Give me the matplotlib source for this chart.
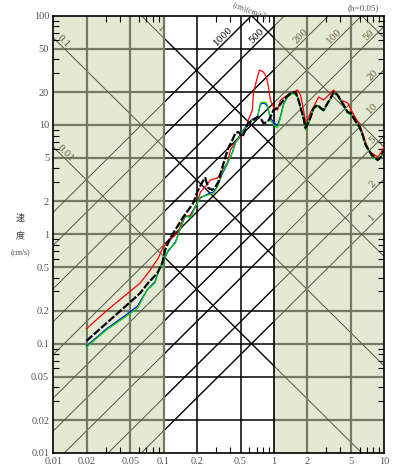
import numpy as np
import matplotlib
matplotlib.use('Agg')
import matplotlib.pyplot as plt

# response spectra (period T [s], velocity V [cm/s])
red_T = [0.02, 0.0308, 0.043, 0.0614, 0.0757, 0.089, 0.0994, 0.115, 0.136, 0.151, 0.175, 0.202,
         0.216, 0.239, 0.266, 0.308, 0.342, 0.379, 0.404, 0.449, 0.498, 0.553, 0.589, 0.640,
         0.653, 0.711, 0.741, 0.805, 0.858, 0.895, 0.933, 0.994, 1.08, 1.151, 1.333, 1.51,
         1.642, 1.748, 1.862, 1.941, 2.066, 2.157, 2.296, 2.55, 2.831, 3.15, 3.488, 3.793,
         4.038, 4.677, 5.2, 5.65, 6.01, 6.40, 6.82, 7.26, 7.73, 8.23, 8.76, 9.33, 10.0]
red_V = [0.137, 0.202, 0.267, 0.358, 0.471, 0.60, 0.765, 0.887, 1.05, 1.41, 1.50, 1.93,
         2.44, 2.71, 3.14, 3.27, 3.87, 4.49, 5.9, 6.98, 7.76, 9.0, 11.1, 13.7,
         19.6, 27.5, 31.8, 30.5, 27.5, 22.2, 16.9, 14.6, 13.7, 16.9, 18.8, 20.0,
         20.9, 18.8, 13.7, 10.6, 11.6, 13.1, 14.6, 18.0, 16.9, 18.8, 20.9, 18.8,
         16.9, 15.9, 12.9, 11.1, 10.0, 8.44, 6.84, 5.9, 5.54, 5.31, 5.09, 5.54, 6.29]

black_T = [0.02, 0.0308, 0.043, 0.0614, 0.0726, 0.0877, 0.0976, 0.1035, 0.115, 0.151, 0.168,
           0.186, 0.202, 0.225, 0.239, 0.255, 0.277, 0.295, 0.314, 0.342, 0.364, 0.387, 0.421,
           0.449, 0.478, 0.519, 0.553, 0.589, 0.653, 0.711, 0.757, 0.805, 0.877, 0.933, 0.994,
           1.08, 1.225, 1.419, 1.575, 1.642, 1.748, 1.862, 1.941, 2.066, 2.157, 2.296, 2.497,
           2.659, 2.831, 3.08, 3.276, 3.488, 3.793, 4.038, 4.3, 4.677, 4.98, 5.30, 5.65, 6.01,
           6.40, 6.82, 7.26, 7.73, 8.23, 8.76, 9.33, 10.0]
black_V = [0.106, 0.156, 0.21, 0.29, 0.36, 0.44, 0.55, 0.72, 0.925, 1.44, 1.67,
           1.93, 2.44, 3.01, 3.27, 2.65, 2.54, 2.71, 3.01, 4.12, 5.09, 6.16, 7.28,
           8.44, 8.63, 7.76, 9.0, 10.4, 11.1, 11.8, 11.6, 10.4, 10.6, 11.8, 13.7,
           14.3, 16.9, 19.6, 20.0, 18.0, 14.6, 11.6, 9.38, 10.6, 11.8, 14.3, 15.2,
           14.3, 13.7, 15.9, 17.6, 20.0, 18.8, 16.9, 15.2, 13.1, 12.9, 11.6, 10.4, 9.58,
           8.09, 6.56, 5.9, 5.31, 5.09, 4.78, 5.09, 5.9]

green_T = [0.02, 0.0308, 0.043, 0.058, 0.071, 0.084, 0.089, 0.0994, 0.110, 0.128, 0.148, 0.157,
           0.175, 0.194, 0.216, 0.255, 0.286, 0.308, 0.342, 0.379, 0.421, 0.449, 0.498, 0.577,
           0.640, 0.711, 0.757, 0.805, 0.858, 0.895, 0.933, 0.994, 1.08, 1.151, 1.225, 1.333,
           1.419, 1.51, 1.642, 1.748, 1.862, 1.941, 2.066, 2.157, 2.296, 2.497, 2.659, 2.831,
           3.08, 3.276, 3.488, 3.793, 4.038, 4.3, 4.677, 4.98, 5.30, 5.65, 6.01, 6.40, 6.82,
           7.26, 7.73, 8.23, 8.76, 9.33, 10.0]
green_V = [0.093, 0.135, 0.17, 0.21, 0.31, 0.36, 0.44, 0.56, 0.718, 0.83, 1.27, 1.50,
           1.41, 1.78, 2.19, 2.29, 2.39, 2.71, 3.71, 4.49, 5.54, 6.84, 8.09, 10.0,
           11.1, 11.6, 15.9, 16.2, 15.9, 13.7, 11.1, 10.0, 9.38, 11.6, 15.2, 18.0,
           18.8, 19.6, 18.0, 14.3, 11.1, 9.0, 10.4, 11.6, 14.0, 15.0, 14.0, 13.4,
           15.6, 17.3, 19.6, 18.4, 16.5, 14.9, 12.8, 12.5, 11.3, 10.2, 9.4, 7.9, 6.4,
           5.8, 5.2, 4.95, 4.7, 5.0, 5.8]

blue_T = [0.02, 0.0308, 0.043, 0.058, 0.071, 0.084, 0.089, 0.0994, 0.110, 0.128, 0.148, 0.157,
          0.175, 0.194, 0.216, 0.255, 0.286, 0.308, 0.342, 0.379, 0.421, 0.449, 0.498, 0.577,
          0.640, 0.711, 0.757, 0.805, 0.858, 0.895, 0.933, 0.994, 1.08, 1.151, 1.225, 1.333,
          1.419, 1.51, 1.642, 1.748, 1.862, 1.941, 2.066, 2.157, 2.296, 2.497, 2.659, 2.831,
          3.08, 3.276, 3.488, 3.793, 4.038, 4.3, 4.677, 4.98, 5.30, 5.65, 6.01, 6.40, 6.82,
          7.26, 7.73, 8.23, 8.76, 9.33, 10.0]
blue_V = [0.095, 0.138, 0.175, 0.22, 0.31, 0.37, 0.45, 0.57, 0.70, 0.85, 1.25, 1.48,
          1.43, 1.80, 2.15, 2.35, 2.45, 2.75, 3.6, 4.4, 5.6, 6.9, 8.2, 10.2,
          11.3, 11.9, 15.5, 15.8, 15.4, 13.5, 11.6, 10.6, 9.8, 12.0, 15.5, 18.3,
          19.0, 19.8, 18.2, 14.4, 11.3, 9.1, 10.5, 11.7, 14.1, 15.1, 14.1, 13.5,
          15.7, 17.4, 19.8, 18.6, 16.7, 15.0, 12.9, 12.6, 11.4, 10.3, 9.5, 8.0, 6.5,
          5.85, 5.25, 5.0, 4.75, 5.05, 5.85]

x_ticks = [0.01, 0.02, 0.05, 0.1, 0.2, 0.5, 1, 2, 5, 10]
x_labels = ['0.01', '0.02', '0.05', '0.1', '0.2', '0.5', '1', '2', '5', '10']
y_ticks = [0.01, 0.02, 0.05, 0.1, 0.2, 0.5, 1, 2, 5, 10, 20, 50, 100]
y_labels = ['0.01', '0.02', '0.05', '0.1', '0.2', '0.5', '1', '2', '5', '10', '20', '50', '100']

disp_lines = [0.01, 0.1, 1, 10, 100]                      # cm
acc_lines = [1, 2, 5, 10, 20, 50, 100, 200, 500, 1000]    # cm/s2
disp_labels = {0.1: 0.0115, 0.01: 0.012, 1: 0.089}        # value -> T of label
acc_label_T = {1000: 0.377, 500: 0.754, 200: 1.88, 100: 3.77, 50: 7.8,
               20: 8.4, 10: 8.4, 5: 8.4, 2: 8.4, 1: 8.4}

shade = '#e3e9d3'
olive = '#737b62'
thin_olive = '#555b48'
lab_olive = '#6b6340'

fig = plt.figure(figsize=(3.97, 4.73), dpi=100)
ax = fig.add_axes([0.1343, 0.0423, 0.833, 0.9247])
ax.set_xscale('log')
ax.set_yscale('log')
ax.set_xlim(0.01, 10)
ax.set_ylim(0.01, 100)

ax.axvspan(0.01, 0.1, color=shade, lw=0, zorder=0)
ax.axvspan(1, 10, color=shade, lw=0, zorder=0)

regions = [(0.01, 0.1, olive, 1.6, thin_olive, 0.7),
           (0.1, 1, 'black', 1.1, 'black', 1.0),
           (1, 10, olive, 1.6, thin_olive, 0.7)]

for lo, hi, gc, gw, dc, dw in regions:
    for yv in y_ticks[1:-1]:
        ax.plot([lo, hi], [yv, yv], color=gc, lw=gw, zorder=1)
    tt = np.logspace(np.log10(lo), np.log10(hi), 50)
    for d in disp_lines:
        ax.plot(tt, 2 * np.pi * d / tt, color=dc, lw=dw, zorder=1)
    for a in acc_lines:
        ax.plot(tt, a * tt / (2 * np.pi), color=dc, lw=dw, zorder=1)

for xv in [0.02, 0.05, 0.1, 2, 5]:
    ax.axvline(xv, color=olive, lw=1.6, zorder=1)
for xv in [0.2, 0.5]:
    ax.axvline(xv, color='black', lw=1.1, zorder=1)
ax.axvline(1, color='black', lw=1.2, zorder=1)

# diagonal scale labels
for d, t in disp_labels.items():
    ax.annotate('{:g}'.format(d), (t, 2 * np.pi * d / t), xytext=(2, 2),
                textcoords='offset points', rotation=-45, ha='center', va='center',
                fontsize=6.5, color=lab_olive, family='DejaVu Serif', zorder=3)
for a, t in acc_label_T.items():
    col = 'black' if t < 1 else lab_olive
    ax.annotate('{:g}'.format(a), (t, a * t / (2 * np.pi)), xytext=(-2.5, 2.5),
                textcoords='offset points', rotation=45, ha='center', va='center',
                fontsize=6.5, color=col, family='DejaVu Serif', zorder=3)

ax.plot(red_T, red_V, color='#ff0000', lw=0.9, zorder=4)
ax.plot(blue_T, blue_V, color='#0000ff', lw=0.9, zorder=4)
ax.plot(green_T, green_V, color='#00dd00', lw=0.9, zorder=5)
ax.plot(black_T, black_V, color='black', lw=1.6, ls=(0, (3.5, 0.9)), zorder=6)

ax.set_xticks(x_ticks)
ax.set_xticklabels(x_labels)
ax.set_yticks(y_ticks)
ax.set_yticklabels(y_labels)
ax.set_xticks([k * 10.0 ** n for n in (-2, -1, 0) for k in (3, 4, 6, 7, 8, 9)], minor=True)
ax.set_yticks([k * 10.0 ** n for n in (-2, -1, 0, 1) for k in (3, 4, 6, 7, 8, 9)], minor=True)
ax.set_xticklabels([], minor=True)
ax.set_yticklabels([], minor=True)
ax.tick_params(which='major', length=0, labelsize=7.5, labelcolor='#555555', pad=3)
ax.tick_params(which='minor', direction='in', length=4, width=0.8,
               top=True, right=True, bottom=True, left=True)
for lab in ax.get_xticklabels() + ax.get_yticklabels():
    lab.set_family('Liberation Serif')
for s in ax.spines.values():
    s.set_linewidth(1.2)

fig.text(20 / 397, 1 - 218 / 473, '速', ha='center', va='center', fontsize=6.5,
         family=['Noto Sans CJK JP', 'DejaVu Sans'], color='#444444')
fig.text(20 / 397, 1 - 236 / 473, '度', ha='center', va='center', fontsize=6.5,
         family=['Noto Sans CJK JP', 'DejaVu Sans'], color='#444444')
fig.text(20 / 397, 1 - 252 / 473, '(cm/s)', ha='center', va='center', fontsize=5.5,
         family='Liberation Serif', color='#444444')
fig.text(363 / 397, 1 - 8 / 473, '(h=0.05)', ha='center', va='center', fontsize=6.5,
         family='Liberation Serif', color='#555555')
fig.text(232 / 397, 1 - 1 / 473, '(cm)(cm/s²)', ha='left', va='top', rotation=-20,
         fontsize=5.5, family='Liberation Serif', color='#555555')

fig.savefig('out.png', dpi=100)
